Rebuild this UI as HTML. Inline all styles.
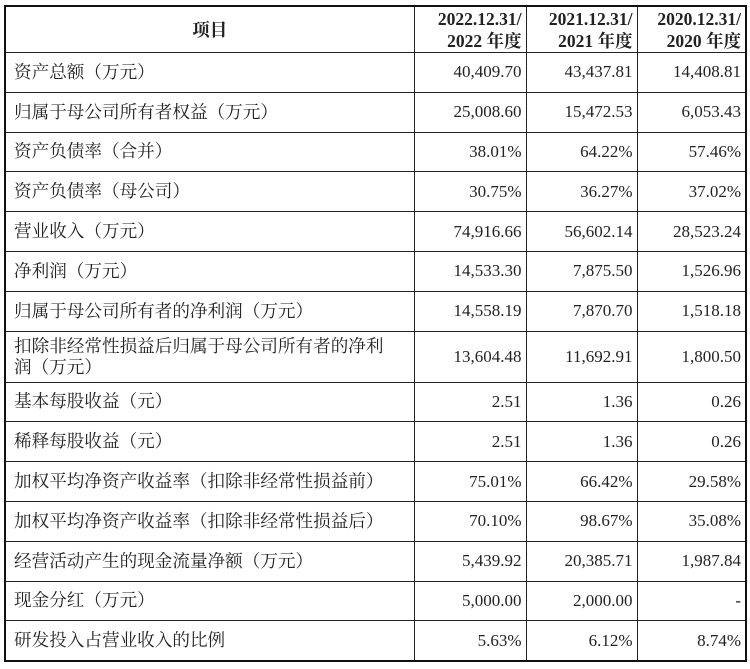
<!DOCTYPE html>
<html><head><meta charset="utf-8"><style>
html,body{margin:0;padding:0;background:#fff;width:750px;height:669px;overflow:hidden}
table{position:absolute;left:4px;top:5px;border-collapse:collapse;border:2px solid #111;font-family:"Liberation Serif","Noto Serif CJK SC",serif;font-size:17px;color:#222;table-layout:fixed}
td,th{border:1.4px solid #222;padding:0 6px;height:38.8px;white-space:nowrap}
td.n{text-align:right;padding-right:4px}
th{font-weight:bold;font-size:17.5px;line-height:22px;height:45px;text-align:center}
th.r{text-align:right;padding-right:4px}
td.l{text-align:left;padding-left:8px;line-height:21px;font-size:17.6px}
</style></head><body>
<table>
<colgroup><col style="width:409px"><col style="width:112px"><col style="width:111px"><col style="width:109px"></colgroup>
<tr><th>项目</th><th class="r">2022.12.31/<br>2022 年度</th><th class="r">2021.12.31/<br>2021 年度</th><th class="r">2020.12.31/<br>2020 年度</th></tr>
<tr><td class="l">资产总额（万元）</td><td class="n">40,409.70</td><td class="n">43,437.81</td><td class="n">14,408.81</td></tr>
<tr><td class="l">归属于母公司所有者权益（万元）</td><td class="n">25,008.60</td><td class="n">15,472.53</td><td class="n">6,053.43</td></tr>
<tr><td class="l">资产负债率（合并）</td><td class="n">38.01%</td><td class="n">64.22%</td><td class="n">57.46%</td></tr>
<tr><td class="l">资产负债率（母公司）</td><td class="n">30.75%</td><td class="n">36.27%</td><td class="n">37.02%</td></tr>
<tr><td class="l">营业收入（万元）</td><td class="n">74,916.66</td><td class="n">56,602.14</td><td class="n">28,523.24</td></tr>
<tr><td class="l">净利润（万元）</td><td class="n">14,533.30</td><td class="n">7,875.50</td><td class="n">1,526.96</td></tr>
<tr><td class="l">归属于母公司所有者的净利润（万元）</td><td class="n">14,558.19</td><td class="n">7,870.70</td><td class="n">1,518.18</td></tr>
<tr><td class="l" style="height:50px">扣除非经常性损益后归属于母公司所有者的净利<br>润（万元）</td><td class="n">13,604.48</td><td class="n">11,692.91</td><td class="n">1,800.50</td></tr>
<tr><td class="l">基本每股收益（元）</td><td class="n">2.51</td><td class="n">1.36</td><td class="n">0.26</td></tr>
<tr><td class="l">稀释每股收益（元）</td><td class="n">2.51</td><td class="n">1.36</td><td class="n">0.26</td></tr>
<tr><td class="l">加权平均净资产收益率（扣除非经常性损益前）</td><td class="n">75.01%</td><td class="n">66.42%</td><td class="n">29.58%</td></tr>
<tr><td class="l">加权平均净资产收益率（扣除非经常性损益后）</td><td class="n">70.10%</td><td class="n">98.67%</td><td class="n">35.08%</td></tr>
<tr><td class="l">经营活动产生的现金流量净额（万元）</td><td class="n">5,439.92</td><td class="n">20,385.71</td><td class="n">1,987.84</td></tr>
<tr><td class="l">现金分红（万元）</td><td class="n">5,000.00</td><td class="n">2,000.00</td><td class="n">-</td></tr>
<tr><td class="l">研发投入占营业收入的比例</td><td class="n">5.63%</td><td class="n">6.12%</td><td class="n">8.74%</td></tr>
</table>
</body></html>
